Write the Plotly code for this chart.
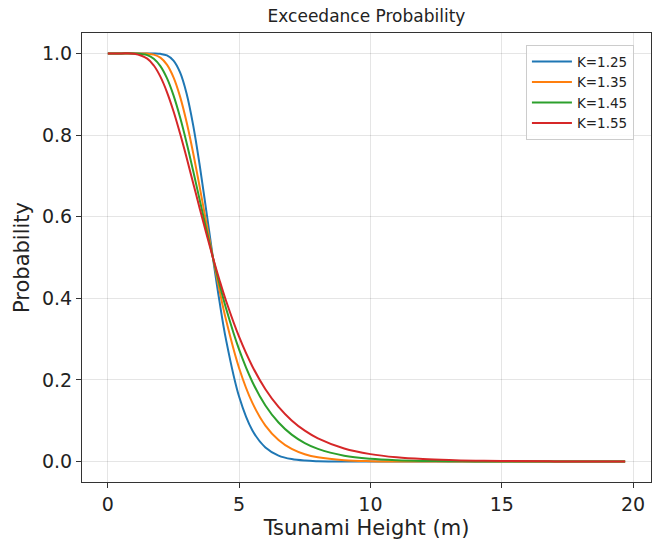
import plotly.graph_objects as go

heights = [0, 0.5, 1, 1.5, 1.75, 2, 2.25, 2.5, 2.75, 3, 3.25, 3.5, 3.75, 4, 4.25, 4.5,
           5, 5.5, 6, 6.5, 7, 7.5, 8, 9, 10, 11, 12, 13, 14, 15, 17, 19.7]

p_125 = [1, 1, 1, 1, 0.9999, 0.9990, 0.9950, 0.9824, 0.9534, 0.9013, 0.8238, 0.7251, 0.6137,
         0.5, 0.3930, 0.2988, 0.1587, 0.0768, 0.0346, 0.0148, 0.0061, 0.0024, 0.0010, 0.0001,
         0, 0, 0, 0, 0, 0, 0, 0]
p_135 = [1, 1, 1, 0.9995, 0.9971, 0.9896, 0.9724, 0.9413, 0.8941, 0.8312, 0.7555, 0.6718, 0.5851,
         0.5, 0.4200, 0.3473, 0.2286, 0.1443, 0.0883, 0.0529, 0.0311, 0.0181, 0.0105, 0.0034,
         0.0011, 0.0004, 0.0001, 0, 0, 0, 0, 0]
p_145 = [1, 1, 0.9999, 0.9959, 0.9870, 0.9689, 0.9393, 0.8971, 0.8434, 0.7806, 0.7118, 0.6403, 0.5689,
         0.5, 0.4352, 0.3756, 0.2741, 0.1957, 0.1376, 0.0957, 0.0660, 0.0453, 0.0311, 0.0145,
         0.0068, 0.0032, 0.0016, 0.0008, 0.0004, 0.0002, 0.0001, 0]
p_155 = [1, 1, 0.9992, 0.9874, 0.9704, 0.9431, 0.9054, 0.8583, 0.8037, 0.7443, 0.6821, 0.6197, 0.5585,
         0.5, 0.4450, 0.3940, 0.3053, 0.2337, 0.1774, 0.1340, 0.1008, 0.0757, 0.0569, 0.0321,
         0.0183, 0.0105, 0.0061, 0.0036, 0.0021, 0.0013, 0.0005, 0.0001]

labels = ["K=1.25", "K=1.35", "K=1.45", "K=1.55"]
colors = ["#1f77b4", "#ff7f0e", "#2ca02c", "#d62728"]
series = [p_125, p_135, p_145, p_155]

fig = go.Figure()
for name, col, ys in zip(labels, colors, series):
    fig.add_trace(go.Scatter(x=heights, y=ys, mode="lines", name=name,
                             line=dict(color=col, width=2, shape="spline", smoothing=1.0)))

axis_style = dict(showline=True, linecolor="#333", linewidth=1, mirror=True,
                  ticks="outside", ticklen=5, tickcolor="#333",
                  showgrid=True, gridcolor="rgba(0,0,0,0.1)", gridwidth=1,
                  zeroline=False, tickfont=dict(size=19, color="#222"))

fig.update_layout(
    width=652, height=545,
    margin=dict(l=82, r=1, t=33, b=63),
    plot_bgcolor="white", paper_bgcolor="white",
    font=dict(family="DejaVu Sans", color="#222"),
    title=dict(text="Exceedance Probability", x=0.5, xref="paper", y=0.97, yanchor="middle",
               font=dict(size=17)),
    xaxis=dict(axis_style, range=[-0.985, 20.685], tickvals=[0, 5, 10, 15, 20],
               title=dict(text="Tsunami Height (m)", font=dict(size=21), standoff=6)),
    yaxis=dict(axis_style, range=[-0.05, 1.05], tickvals=[0, 0.2, 0.4, 0.6, 0.8, 1.0],
               ticktext=["0.0", "0.2", "0.4", "0.6", "0.8", "1.0"],
               title=dict(text="Probability", font=dict(size=21), standoff=6)),
    legend=dict(x=0.97, y=0.973, xanchor="right", yanchor="top",
                bgcolor="rgba(255,255,255,0.8)", bordercolor="#ccc", borderwidth=1,
                font=dict(size=13.5), tracegroupgap=0, itemwidth=40),
)

# page body has a default 8px margin; drop it so the figure sits at the window corner
fig.write_html("out.html", config={"displayModeBar": False},
               post_script="document.body.style.margin='0';")
